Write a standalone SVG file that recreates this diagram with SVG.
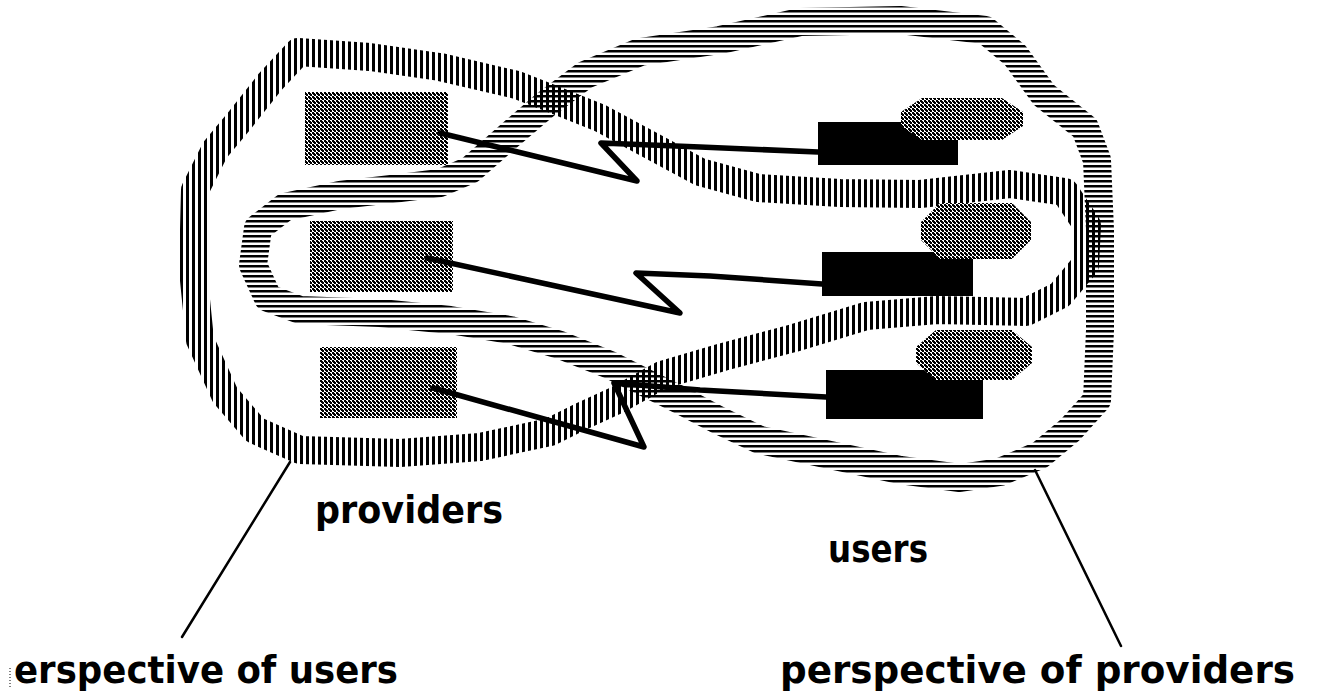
<svg xmlns="http://www.w3.org/2000/svg" width="1332" height="697" viewBox="0 0 1332 697">
  <defs>
    <!-- vertical stripes used for the users' perspective band -->
    <pattern id="vhatch" patternUnits="userSpaceOnUse" width="6" height="6">
      <rect x="0" y="0" width="3" height="6" fill="#000"/>
    </pattern>
    <!-- horizontal stripes used for the providers' perspective band -->
    <pattern id="hhatch" patternUnits="userSpaceOnUse" width="6" height="5">
      <rect x="0" y="0" width="6" height="2.5" fill="#000"/>
    </pattern>
    <!-- dithered grey -->
    <pattern id="dither" patternUnits="userSpaceOnUse" width="4" height="4">
      <rect x="0" y="0" width="4" height="4" fill="#fff"/>
      <rect x="0" y="0" width="2" height="2" fill="#000"/>
      <rect x="2" y="2" width="2" height="2" fill="#000"/>
      <rect x="1" y="1" width="2" height="2" fill="#000"/>
    </pattern>
  </defs>
  <style>
    .band { fill: none; stroke-width: 28; stroke-linejoin: round; stroke-linecap: round; }
    .vband { stroke: url(#vhatch); }
    .hband { stroke: url(#hhatch); }
    .provider { fill: url(#dither); }
    .user { fill: #000; }
    .badge { fill: url(#dither); }
    .link { fill: none; stroke: #000; stroke-width: 5.5; stroke-linejoin: round; stroke-linecap: round; }
    .leader { fill: none; stroke: #000; stroke-width: 2.5; stroke-linecap: round; }
    .label { font-family: "DejaVu Sans", "Liberation Sans", sans-serif; font-weight: bold; font-size: 37px; fill: #000; }
  </style>

  <rect width="1332" height="697" fill="#fff"/>

  <!-- band around all providers and the middle user -->
  <g id="users-perspective">
    <polygon class="band vband" points="298,52 370,57 440,67 517,85 555,100 600,118 650,145 700,172 758,188 840,193 920,194 1010,184 1065,192 1087,225 1085,265 1060,295 1026,312 937,310 866,316 794,338 723,357 662,375 617,400 580,417 550,432 480,447 400,453 300,450 255,430 225,395 200,340 193,270 195,190 215,150 240,120 270,82"/>
  </g>

  <!-- band around all users and the middle provider -->
  <g id="providers-perspective">
    <polygon class="band hband" points="470,170 510,135 545,105 585,75 640,52 720,40 800,22 900,20 985,30 1015,55 1044,95 1085,128 1097,160 1100,230 1100,330 1097,400 1070,430 1040,455 1000,472 960,478 900,470 830,455 760,440 718,420 680,400 650,385 610,365 560,345 510,330 450,320 380,313 300,310 268,298 253,265 258,228 285,207 340,195 400,188 440,183"/>
  </g>

  <g id="provider-1"><rect class="provider" x="305" y="92" width="143" height="73"/></g>
  <g id="provider-2"><rect class="provider" x="310" y="221" width="143" height="71"/></g>
  <g id="provider-3"><rect class="provider" x="320" y="347" width="137" height="71"/></g>

  <g id="user-1">
    <rect class="user" x="818" y="122" width="140" height="43"/>
    <polygon class="badge" points="922,98 1002,98 1023,112 1023,126 1002,140 922,140 901,126 901,112"/>
  </g>
  <g id="user-2">
    <rect class="user" x="822" y="252" width="151" height="44"/>
    <polygon class="badge" points="940,203 1012,203 1031,222 1031,240 1012,259 940,259 921,240 921,222"/>
  </g>
  <g id="user-3">
    <rect class="user" x="826" y="370" width="157" height="49"/>
    <polygon class="badge" points="936,330 1012,330 1032,347 1032,363 1012,380 936,380 916,363 916,347"/>
  </g>

  <g id="connectors">
    <polyline class="link" points="440,133 637,181 601,143 700,147 818,152"/>
    <polyline class="link" points="427,258 680,313 636,273 710,276 822,284"/>
    <polyline class="link" points="433,388 644,447 614,383 700,390 826,397"/>
    <line class="leader" x1="290" y1="462" x2="182" y2="637"/>
    <line class="leader" x1="1035" y1="470" x2="1121" y2="646"/>
  </g>

  <g id="labels">
    <text class="label" x="315" y="523" textLength="188" lengthAdjust="spacingAndGlyphs">providers</text>
    <text class="label" x="828" y="562" textLength="100" lengthAdjust="spacingAndGlyphs">users</text>
    <line x1="10" y1="668" x2="10" y2="688" stroke="#000" stroke-width="1" stroke-dasharray="1,2"/>
    <text class="label" x="14" y="683" textLength="384" lengthAdjust="spacingAndGlyphs">erspective of users</text>
    <text class="label" x="780" y="683" textLength="515" lengthAdjust="spacingAndGlyphs">perspective of providers</text>
  </g>
</svg>
